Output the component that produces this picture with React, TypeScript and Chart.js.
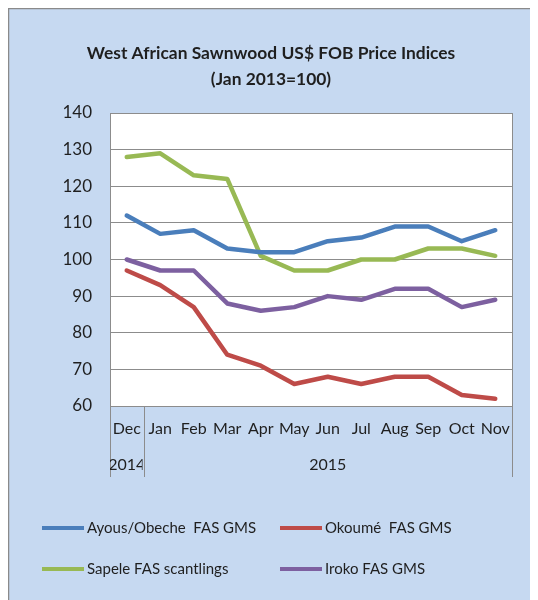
import React, { useEffect, useRef } from "react";
import { Chart, registerables } from "chart.js";

Chart.register(...registerables);

const months = ["Dec", "Jan", "Feb", "Mar", "Apr", "May", "Jun", "Jul", "Aug", "Sep", "Oct", "Nov"];
const yearGroups = [
  { label: "2014", from: 0, to: 0 },
  { label: "2015", from: 1, to: 11 },
];
const titleLines = ["West African Sawnwood US$ FOB Price Indices", "(Jan 2013=100)"];

const ayous = [112, 107, 108, 103, 102, 102, 105, 106, 109, 109, 105, 108];
const okoume = [97, 93, 87, 74, 71, 66, 68, 66, 68, 68, 63, 62];
const sapele = [128, 129, 123, 122, 101, 97, 97, 100, 100, 103, 103, 101];
const iroko = [100, 97, 97, 88, 86, 87, 90, 89, 92, 92, 87, 89];

const seriesNames = ["Ayous/Obeche  FAS GMS", "Okoumé  FAS GMS", "Sapele FAS scantlings", "Iroko FAS GMS"];
const seriesColors = ["#4A7EBB", "#BE4B48", "#98B954", "#7D60A0"];

const FONT = "Lato, 'Open Sans', sans-serif";
const TEXT = "#1f1f1f";
const BG = "#C6D9F1";
const GRID = "#8c8c8c";

const decorPlugin = {
  id: "decor",
  beforeDraw(chart: any) {
    const { ctx, width, height } = chart;
    ctx.save();
    ctx.fillStyle = BG;
    ctx.fillRect(0, 0, width, height);
    ctx.fillStyle = "#ffffff";
    const a = chart.chartArea;
    ctx.fillRect(a.left, a.top, a.right - a.left, a.bottom - a.top);
    ctx.strokeStyle = "#8a8a8a";
    ctx.lineWidth = 1.5;
    ctx.beginPath();
    ctx.moveTo(0.5, height);
    ctx.lineTo(0.5, 0.5);
    ctx.lineTo(width, 0.5);
    ctx.stroke();
    ctx.restore();
  },
  afterDraw(chart: any) {
    const { ctx } = chart;
    const a = chart.chartArea;
    const x = chart.scales.x;
    ctx.save();
    ctx.fillStyle = TEXT;
    ctx.textAlign = "center";
    ctx.textBaseline = "middle";
    ctx.font = `bold 17.4px ${FONT}`;
    const cx = 263;
    ctx.fillText(titleLines[0], cx, 45);
    ctx.fillText(titleLines[1], cx, 71);

    ctx.strokeStyle = GRID;
    ctx.lineWidth = 1;
    ctx.strokeRect(Math.round(a.left) + 0.5, Math.round(a.top) + 0.5, Math.round(a.right - a.left), Math.round(a.bottom - a.top));

    const half = (x.getPixelForValue(1) - x.getPixelForValue(0)) / 2;
    const sepBottom = a.bottom + 71;
    const bounds = new Set<number>();
    yearGroups.forEach((g) => {
      bounds.add(Math.round(x.getPixelForValue(g.from) - half));
      bounds.add(Math.round(x.getPixelForValue(g.to) + half));
    });
    ctx.beginPath();
    bounds.forEach((bx) => {
      ctx.moveTo(bx + 0.5, a.bottom);
      ctx.lineTo(bx + 0.5, sepBottom);
    });
    ctx.stroke();

    ctx.font = `16px ${FONT}`;
    ctx.fillStyle = TEXT;
    months.forEach((m, i) => {
      ctx.fillText(m, x.getPixelForValue(i), a.bottom + 23);
    });

    yearGroups.forEach((g) => {
      const l = x.getPixelForValue(g.from) - half;
      const r = x.getPixelForValue(g.to) + half;
      ctx.save();
      ctx.beginPath();
      ctx.rect(l, a.bottom, r - l - 1, 80);
      ctx.clip();
      ctx.fillText(g.label, (l + r) / 2, a.bottom + 59);
      ctx.restore();
    });

    ctx.font = `15px ${FONT}`;
    ctx.textAlign = "left";
    const cols = [34, 272];
    const rows = [520, 561];
    chart.data.datasets.forEach((ds: any, i: number) => {
      const lx = cols[i % 2];
      const ly = rows[Math.floor(i / 2)];
      ctx.strokeStyle = ds.borderColor;
      ctx.lineWidth = 4;
      ctx.beginPath();
      ctx.moveTo(lx, ly);
      ctx.lineTo(lx + 42, ly);
      ctx.stroke();
      ctx.fillStyle = TEXT;
      ctx.fillText(ds.label, lx + 45, ly);
    });
    ctx.restore();
  },
};

export default function App() {
  const ref = useRef<HTMLCanvasElement | null>(null);
  useEffect(() => {
    if (!ref.current) return;
    const data = [ayous, okoume, sapele, iroko];
    const chart = new Chart(ref.current, {
      type: "line",
      data: {
        labels: months,
        datasets: data.map((d, i) => ({
          label: seriesNames[i],
          data: d,
          borderColor: seriesColors[i],
          backgroundColor: seriesColors[i],
          borderWidth: 4.5,
          pointRadius: 0,
          tension: 0,
          borderJoinStyle: "round" as const,
          borderCapStyle: "round" as const,
        })),
      },
      options: {
        responsive: false,
        animation: false,
        layout: { padding: { top: 105, right: 21, bottom: 194, left: 0 } },
        plugins: {
          legend: { display: false },
          title: { display: false },
          tooltip: { enabled: false },
        },
        scales: {
          x: {
            offset: true,
            grid: { display: false, drawTicks: false },
            border: { display: false },
            ticks: { display: false },
            afterFit: (s: any) => {
              s.height = 0;
            },
          },
          y: {
            min: 60,
            max: 140,
            grid: { color: GRID, lineWidth: 1, drawTicks: false },
            border: { display: false },
            ticks: {
              stepSize: 10,
              color: TEXT,
              font: { family: FONT, size: 17 },
              padding: 18,
            },
            afterFit: (s: any) => {
              s.width = 102;
            },
          },
        },
      },
      plugins: [decorPlugin],
    });
    return () => chart.destroy();
  }, []);
  return (
    <div style={{ width: 525, height: 592 }}>
      <canvas ref={ref} width={525} height={592} style={{ display: "block" }} />
    </div>
  );
}
